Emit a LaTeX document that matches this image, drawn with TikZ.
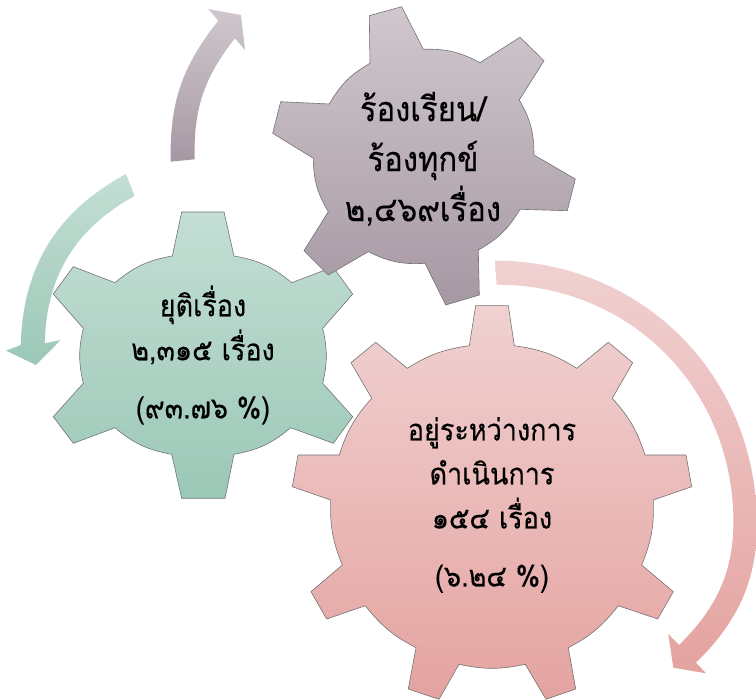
\documentclass[tikz,border=0pt]{standalone}
\usepackage{fontspec}
\usepackage{xcolor}
\newfontfamily\thaifont[Script=Thai,FakeBold=0.3,FakeStretch=0.9]{Loma}
\definecolor{purpletop}{HTML}{D0C8CE}
\definecolor{purplebot}{HTML}{A698A3}
\definecolor{greentop}{HTML}{C4DED4}
\definecolor{greenbot}{HTML}{9BC8B7}
\definecolor{pinktop}{HTML}{F0D1D1}
\definecolor{pinkbot}{HTML}{E4A3A0}
\tikzset{
    purplefill/.style={top color=purpletop,bottom color=purplebot},
    greenfill/.style={top color=greentop,bottom color=greenbot},
    pinkfill/.style={top color=pinktop,bottom color=pinkbot},
    gearline/.style={draw=black!55,line width=0.6pt,line join=miter},
    rim/.style={bend left=#1},
    gearlabel/.style={align=center,text=black,font=\thaifont\fontsize{30}{44}\selectfont}
}

\begin{document}
\begin{tikzpicture}[x=1pt,y=-1pt]
    \useasboundingbox (0,0) rectangle (756,700);

    % arrows
    \path [purplefill] (170.7,161.7) to[bend left=20] (218.3,20.7) -- (208.3,9) -- (241,15) -- (245,50)
        -- (235,38.3) to[bend right=20] (194.7,159.3) -- cycle;
    \path [greenfill] (126,174) to[bend right=30] (20.7,345) -- (6,350.7) -- (36,365) -- (60.7,340)
        -- (44.7,343.3) to[bend left=30] (134.7,196) -- cycle;
    \path [pinkfill] (495,260.7) to[bend left=43] (756,503.3) to[bend left=25] (696,662.7) -- (706,673.3)
        -- (673.3,667.7) -- (668.3,634) -- (679,645) to[bend right=25] (732.7,503.3)
        to[bend right=43] (496.7,284.7) -- cycle;

    % gears
    \draw [gearline,greenfill] (172.3,256) -- (181.7,212) -- (224,212) -- (234,256)
        to[rim=15] (291.7,282.7) -- (333,267) -- (352.7,294) -- (322.7,328.3)
        to[rim=13] (322.7,383.3) -- (352.7,416.7) -- (333.3,443.3) -- (290.7,427.7)
        to[rim=15] (234,454.3) -- (225,498.3) -- (181.7,498.3) -- (171.7,454.3)
        to[rim=15] (115,427.7) -- (73.3,443.3) -- (53.3,416.7) -- (83.3,383.3)
        to[rim=13] (83.3,328.3) -- (53.3,294) -- (73.3,266.7) -- (115,282.7)
        to[rim=15] cycle;
    \draw [gearline,pinkfill] (469.3,345.7) -- (475.7,305.7) -- (508.3,305.7) -- (514.3,345.7)
        to[rim=12] (576.7,368.3) -- (608.3,342.3) -- (632.7,362.7) -- (612.3,398.3)
        to[rim=12] (645,455) -- (686,455) -- (691.7,486.7) -- (653.3,500)
        to[rim=12] (641.7,565) -- (673.3,591.7) -- (657.7,619) -- (618.3,605.7)
        to[rim=12] (568.3,647.7) -- (575.7,689) -- (546,699.3) -- (525.3,664.3)
        to[rim=12] (459,664.3) -- (439,699.3) -- (408.3,689) -- (416,647.7)
        to[rim=12] (365.3,605.7) -- (326.7,619) -- (311,591.7) -- (342.3,565)
        to[rim=12] (330.7,500) -- (292.3,486.7) -- (298,455) -- (339.3,455)
        to[rim=12] (371.7,398.3) -- (351,362.7) -- (375.7,342.3) -- (407.3,368.3)
        to[rim=12] cycle;
    \draw [gearline,purplefill] (370,63.3) -- (369.3,15.7) -- (401.7,6.7) -- (423.3,49.3)
        to[rim=15] (480,62.7) -- (520,37.3) -- (544,60.7) -- (519.3,100)
        to[rim=15] (534,155) -- (575.3,179) -- (567.3,210.7) -- (520,209.3)
        to[rim=15] (478.3,250) -- (479.3,295) -- (445.7,305) -- (425,263.3)
        to[rim=15] (368.3,251.7) -- (328.3,275) -- (304,250.7) -- (328.3,211.7)
        to[rim=15] (313.3,158.3) -- (272.7,133.3) -- (280.7,101.7) -- (329.3,104)
        to[rim=15] cycle;

    % labels
    \node [gearlabel,font=\thaifont\fontsize{34.5}{50}\selectfont] (complaints) at (423,159) {ร้องเรียน/\\ร้องทุกข์\\๒,๔๖๙เรื่อง};
    \node [gearlabel] (closed) at (203,355) {ยุติเรื่อง\\๒,๓๑๕ เรื่อง\\[14pt](๙๓.๗๖ \%)};
    \node [gearlabel] (pending) at (492,505) {อยู่ระหว่างการ\\ดำเนินการ\\๑๕๔ เรื่อง\\[14pt](๖.๒๔ \%)};
\end{tikzpicture}
\end{document}
